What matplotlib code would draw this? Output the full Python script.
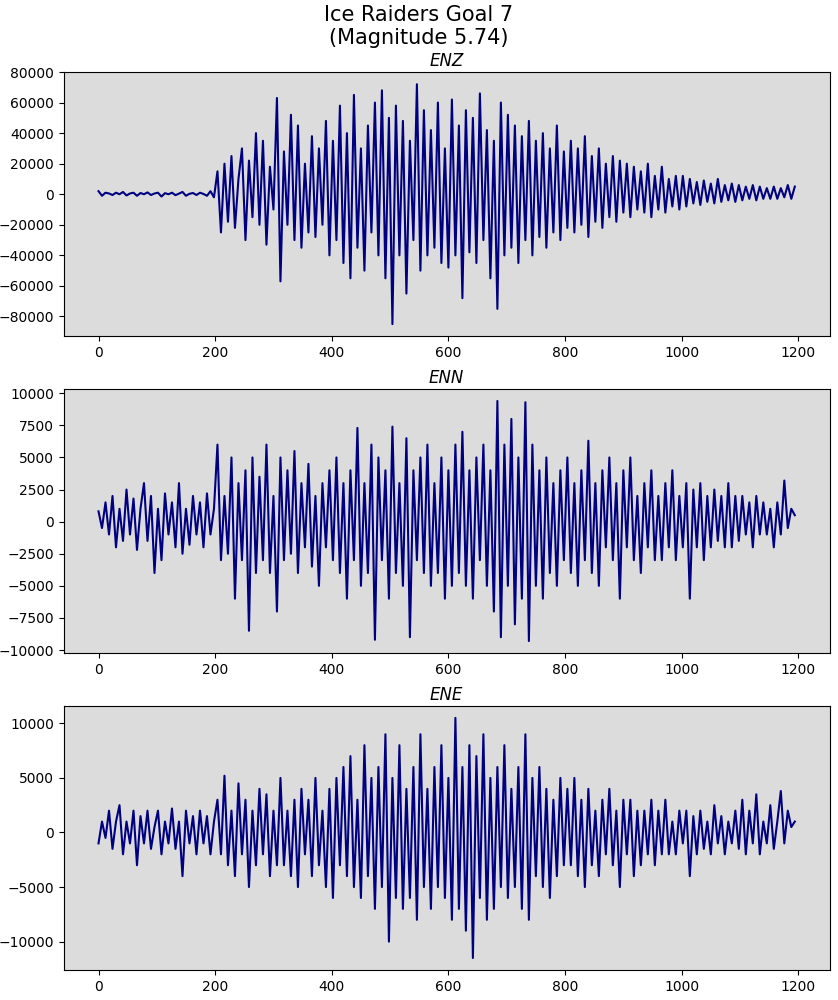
import numpy as np
import matplotlib
matplotlib.use("Agg")
import matplotlib.pyplot as plt

title = "Ice Raiders Goal 7\n(Magnitude 5.74)"
channels = ["ENZ", "ENN", "ENE"]
duration = 1200
enz_ticks = [-80000, -60000, -40000, -20000, 0, 20000, 40000, 60000, 80000]
enn_ticks = [-10000, -7500, -5000, -2500, 0, 2500, 5000, 7500, 10000]
ene_ticks = [-10000, -5000, 0, 5000, 10000]

enz_k = [2,-1,1,0.5,-0.5,1,0,1.5,-0.8,0.5,1,-1,0.8,0,1.2,-0.5,0.5,1,-1.5,0.7,0,1,-0.6,0.4,1.5,-1,0.3,0.8,-0.5,1,0.2,-1,2,-2,
         15,-25,20,-18,25,-22,10,30,-30,22,-15,40,-20,35,-33,18,-10,63,-57,28,-20,52,-30,45,-35,20,-25,38,-28,30,-20,48,-40,
         35,-30,58,-45,40,-55,65,-35,30,-50,45,-25,60,-40,68,-55,50,-85,58,-40,48,-65,35,-30,72,-50,55,-40,42,-35,60,-45,30,-48,
         62,-40,45,-68,55,-38,50,-45,66,-30,42,-55,35,-75,60,-40,52,-35,45,-45,38,-30,48,-40,35,-28,40,-35,30,-25,45,-30,28,
         -22,35,-25,30,-20,38,-28,25,-18,30,-22,20,-15,25,-18,22,-12,20,-15,18,-10,15,-12,20,-15,12,-10,18,-12,10,-8,12,-10,
         12,-8,10,-6,8,-7,9,-5,7,-6,10,-5,6,-4,7,-5,6,-4,5,-3,6,-4,5,-3,4,-3,5,-3,4,-2,6,-3,5]
enn_k = [0.8,-0.5,1.5,-1,2,-2,1,-1.5,2.5,-1,1.8,-2.2,1,3,-1.5,2,-4,1,-3,2.2,-1,1.5,-2,3,-2.5,1,-1.8,2,-1,1.5,-2,2.2,-1,1,
         6,-3,2,-2.5,5,-6,3,-3,4,-8.5,5,-4,3.5,-3,6,-4,2,-7,5,-3,4,-2.5,5.5,-4,3,-2,4.5,-3.5,2,-5,3,-2,4,
         -3,5,-4,3,-6,4,-3,7.3,-5,3,-4,6,-9.2,5,-3,4,-6,7.4,-4,3,-5,6.5,-9,4,-3,5,-4,6,-5,3,-4,5,-6,4,
         -5,6,-4,7,-5,4,-6,5,-3,6,-5,4,-7,9.4,-9,6,-5,8,-8,5,-6,9.3,-9.3,6,-5,4,-6,5,-4,3,-5,4,-3,
         5,-4,3,-5,4,-3,6.3,-4,3,-5,4,-2,5,-3,3,-6,4,-2,5,-3,2,-4,3,-2,4,-3,2,-3,3,-2,4,-3,2,
         -2,3,-6,2.5,-2,3,-3,2,-2,2.5,-1.5,2,-2,3,-2,2,-1.5,2,-1,1.5,-2,2,-1,1.5,-1,1,-2,1.5,-1,3.2,-0.5,1,0.5]
ene_k = [-1,1,-0.5,2,-1.5,1,2.5,-2,1,-1,2,-3,1.5,-1,2,-1.5,0.5,2,-2,1,-1,2.2,-1.5,1,-4,2,-1,1.5,-2,2,-1,1.5,-2,1,
         3,-2,5.2,-3,2,-4,4.5,-2,3,-5,2,-3,4,-2,3.5,-4,2,-3,5,-3,2,-4,3,-5,4,-2,3,-4,5,-3,2,-5,4,
         -6,5,-3,6,-4,7,-5,3,-6,8,-4,5,-7,6,-5,9,-10,5,-6,8,-7,4,-6,6,-8,9,-5,4,-7,6,-5,8,-6,5,
         -8,10.5,-7,6,-9,8,-11.5,7,-6,9,-8,5,-7,6,-5,8,-6,4,-5,6,-7,9,-8,5,-4,6,-5,4,-6,3,-4,5,-3,
         4,-3,5,-4,3,-5,4,-3,2,-4,3,-2,4,-3,2,-5,3,-2,3,-4,2,-3,2,-2,3,-3,2,-2,3,-2,1,-2,2,
         -1,2,-4,1.5,-2,2,-1.5,1,-2,2.5,-1,1.5,-2,1,-1,2,-1.5,3,-2,2,-1,3.5,-2,1,-1,2.5,-1.5,1,3.8,-1,2,0.5,1]

series = [np.array(enz_k) * 1000, np.array(enn_k) * 1000, np.array(ene_k) * 1000]
ticks = [enz_ticks, enn_ticks, ene_ticks]

fig, axes = plt.subplots(3, 1, figsize=(8.38, 10), dpi=100)
fig.subplots_adjust(left=0.076, right=0.99, top=0.928, bottom=0.03, hspace=0.2)
for ax, name, y, t in zip(axes, channels, series, ticks):
    x = np.arange(len(y)) * (duration / len(y))
    ax.plot(x, y, color="navy")
    ax.set_facecolor("gainsboro")
    ax.set_title(name, style="italic", pad=4)
    lo, hi = y.min(), y.max()
    pad = (hi - lo) * 0.05
    ax.set_ylim(lo - pad, max(hi + pad, max(v for v in t if v <= hi + 2 * pad)))
    ylo, yhi = ax.get_ylim()
    ax.set_yticks([v for v in t if ylo <= v <= yhi])
fig.suptitle(title, fontsize=15, y=0.995)
fig.savefig("out.png")
